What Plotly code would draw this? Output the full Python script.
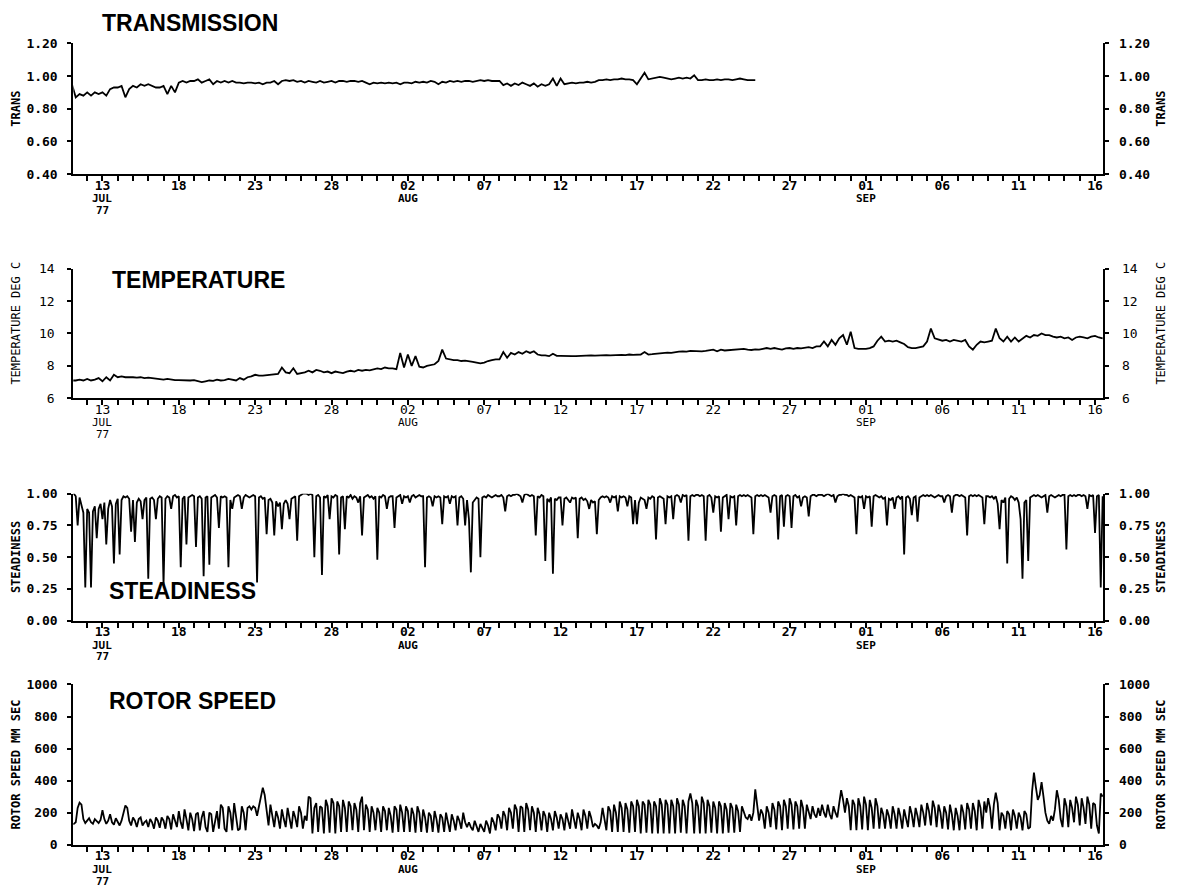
import pandas as pd
import plotly.graph_objects as go

W, H = 1177, 895

# ---- Transmission, 6-hourly from 1977-07-11 00:00 (ends 24 Aug) ----
trans_vals = [
    0.95, 0.87, 0.89, 0.88,   # Jul 11
    0.90, 0.88, 0.90, 0.89,
    0.90, 0.88, 0.92, 0.93,
    0.93, 0.94, 0.87, 0.92,
    0.94, 0.93, 0.95, 0.94,   # Jul 15
    0.95, 0.94, 0.93, 0.93,
    0.94, 0.89, 0.94, 0.90,
    0.96, 0.97, 0.96, 0.97,
    0.97, 0.98, 0.96, 0.97,
    0.98, 0.95, 0.97, 0.96,   # Jul 20
    0.97, 0.96, 0.97, 0.96,
    0.96, 0.955, 0.96, 0.96,
    0.955, 0.96, 0.95, 0.96,
    0.96, 0.97, 0.95, 0.97,
    0.975, 0.97, 0.975, 0.965,  # Jul 25
    0.97, 0.96, 0.97, 0.965,
    0.96, 0.97, 0.96, 0.965,
    0.97, 0.96, 0.97, 0.97,
    0.965, 0.97, 0.97, 0.965,
    0.97, 0.96, 0.95, 0.96,   # Jul 30
    0.955, 0.96, 0.955, 0.96,
    0.955, 0.96, 0.95, 0.96,  # Aug 1
    0.96, 0.955, 0.965, 0.96,
    0.965, 0.96, 0.97, 0.965,
    0.95, 0.965, 0.96, 0.97,
    0.965, 0.97, 0.965, 0.97,  # Aug 5
    0.97, 0.965, 0.97, 0.975,
    0.97, 0.975, 0.97, 0.97,
    0.97, 0.945, 0.955, 0.94,
    0.955, 0.945, 0.96, 0.95,
    0.94, 0.955, 0.935, 0.95,  # Aug 10
    0.94, 0.95, 0.985, 0.94,
    0.985, 0.95, 0.955, 0.96,
    0.955, 0.96, 0.96, 0.965,
    0.96, 0.965, 0.975, 0.975,
    0.98, 0.975, 0.98, 0.98,   # Aug 15
    0.985, 0.98, 0.98, 0.975,
    0.95, 0.985, 1.02, 0.98,
    0.985, 0.99, 0.995, 0.99,
    0.985, 0.98, 0.985, 0.99,
    0.985, 0.99, 0.985, 1.005,  # Aug 20
    0.975, 0.975, 0.98, 0.975,
    0.975, 0.98, 0.975, 0.98,
    0.98, 0.975, 0.98, 0.985,
    0.98, 0.975, 0.975, 0.975,  # Aug 24
]

# ---- Temperature (deg C), 6-hourly from 1977-07-11 00:00 ----
temp_vals = [
    7.1, 7.1, 7.15, 7.1,      # Jul 11
    7.2, 7.1, 7.15, 7.25,
    7.05, 7.3, 7.1, 7.45,
    7.3, 7.35, 7.3, 7.32,
    7.3, 7.28, 7.3, 7.25,     # Jul 15
    7.28, 7.25, 7.22, 7.2,
    7.15, 7.2, 7.15, 7.12,
    7.12, 7.1, 7.12, 7.1,
    7.12, 7.08, 7.0, 7.05,
    7.1, 7.08, 7.15, 7.1,     # Jul 20
    7.12, 7.2, 7.15, 7.1,
    7.25, 7.15, 7.3, 7.35,
    7.45, 7.4, 7.4, 7.42,
    7.42, 7.45, 7.5, 7.9,
    7.6, 7.55, 7.85, 7.5,     # Jul 25
    7.55, 7.6, 7.7, 7.6,
    7.75, 7.7, 7.6, 7.65,
    7.55, 7.65, 7.6, 7.55,
    7.65, 7.7, 7.65, 7.75,
    7.7, 7.75, 7.72, 7.8,     # Jul 30
    7.85, 7.8, 7.9, 7.85,
    7.85, 7.8, 8.8, 7.9,      # Aug 1
    8.7, 8.0, 8.6, 7.95,
    7.9, 8.0, 8.05, 8.1,
    8.3, 9.0, 8.45, 8.4,
    8.35, 8.35, 8.3, 8.32,    # Aug 5
    8.3, 8.25, 8.2, 8.15,
    8.2, 8.3, 8.35, 8.4,
    8.4, 8.85, 8.5, 8.8,
    8.7, 8.85, 8.75, 8.9,
    8.8, 8.9, 8.7, 8.65,      # Aug 10
    8.65, 8.6, 8.75, 8.62,
    8.62, 8.6, 8.62, 8.6,
    8.6, 8.62, 8.65, 8.63,
    8.65, 8.63, 8.65, 8.64,
    8.66, 8.65, 8.67, 8.66,   # Aug 15
    8.68, 8.66, 8.7, 8.68,
    8.68, 8.7, 8.85, 8.7,
    8.72, 8.75, 8.78, 8.8,
    8.82, 8.8, 8.85, 8.88,
    8.9, 8.88, 8.92, 8.9,     # Aug 20
    8.88, 8.9, 8.92, 8.95,
    9.0, 8.9, 9.0, 8.95,
    8.97, 9.0, 8.98, 9.02,
    9.05, 9.0, 8.98, 9.02,
    9.0, 9.05, 9.1, 9.05,     # Aug 25
    9.1, 9.05, 9.0, 9.08,
    9.1, 9.05, 9.1, 9.08,
    9.1, 9.15, 9.1, 9.2,
    9.2, 9.5, 9.2, 9.6,
    9.3, 9.7, 9.9, 9.3,       # Aug 30
    10.1, 9.1, 9.05, 9.05,
    9.05, 9.1, 9.2, 9.55,     # Sep 1
    9.8, 9.5, 9.55, 9.5,
    9.55, 9.45, 9.35, 9.15,
    9.1, 9.1, 9.15, 9.2,
    9.5, 10.3, 9.7, 9.6,      # Sep 5
    9.55, 9.6, 9.5, 9.6,
    9.55, 9.5, 9.6, 9.2,
    9.0, 9.3, 9.5, 9.45,
    9.5, 9.55, 10.3, 9.7,
    9.5, 9.8, 9.5, 9.75,      # Sep 10
    9.5, 9.7, 9.85, 9.75,
    9.9, 9.85, 10.0, 9.9,
    9.9, 9.8, 9.75, 9.8,
    9.7, 9.75, 9.6, 9.75,
    9.8, 9.75, 9.7, 9.8,      # Sep 15
    9.85, 9.75, 9.7,
]

# ---- Steadiness, 3-hourly from 1977-07-11 00:00 ----
steady_vals = [
    1.00, 1.00, 0.98, 0.75, 0.97, 0.90, 0.85, 0.26,   # Jul 11
    0.88, 0.85, 0.26, 0.86, 0.90, 0.65, 0.88, 0.92,
    0.80, 0.93, 0.60, 0.88, 0.95, 0.90, 0.45, 0.92,
    0.96, 0.52, 0.95, 0.98, 0.97, 0.98, 0.96, 0.70,
    0.95, 0.62, 0.93, 0.96, 0.94, 0.80, 0.95, 0.97,   # Jul 15
    0.33, 0.96, 0.97, 0.95, 0.80, 0.96, 0.98, 0.97,
    0.28, 0.96, 0.98, 0.97, 0.88, 0.98, 0.99, 0.97,
    0.98, 0.42, 0.96, 0.98, 0.60, 0.97, 0.98, 0.99,
    0.98, 0.58, 0.97, 0.98, 0.96, 0.35, 0.97, 0.98,
    0.44, 0.97, 0.98, 0.99, 0.97, 0.73, 0.98, 0.97,   # Jul 20
    0.98, 0.97, 0.42, 0.95, 0.88, 0.97, 0.98, 0.99,
    0.98, 0.88, 0.97, 0.99, 0.98, 0.97, 0.98, 0.99,
    0.98, 0.30, 0.97, 0.98, 0.96, 0.97, 0.68, 0.95,
    0.96, 0.93, 0.67, 0.94, 0.90, 0.93, 0.72, 0.92,
    0.95, 0.92, 0.80, 0.96, 0.97, 0.98, 0.63, 0.98,   # Jul 25
    0.99, 1.00, 1.00, 1.00, 0.99, 1.00, 0.99, 0.50,
    0.98, 0.99, 0.97, 0.36, 0.98, 0.97, 0.99, 0.80,
    0.98, 0.97, 0.99, 0.98, 0.52, 0.97, 0.98, 0.72,
    0.98, 0.97, 0.99, 0.96, 0.98, 0.97, 0.93, 0.98,
    0.67, 0.97, 0.98, 0.99, 0.97, 0.98, 0.96, 0.98,   # Jul 30
    0.48, 0.98, 0.97, 0.99, 0.98, 0.88, 0.97, 0.98,
    0.98, 0.73, 0.97, 0.98, 0.99, 0.92, 0.98, 0.97,   # Aug 1
    0.98, 0.93, 0.98, 0.99, 0.97, 0.98, 0.99, 0.98,
    0.98, 0.42, 0.97, 0.98, 0.97, 0.90, 0.98, 0.97,
    0.98, 0.97, 0.76, 0.98, 0.97, 0.98, 0.92, 0.98,
    0.97, 0.98, 0.75, 0.97, 0.98, 0.96, 0.75, 0.95,   # Aug 5
    0.80, 0.38, 0.93, 0.95, 0.97, 0.96, 0.50, 0.97,
    0.98, 0.97, 0.99, 0.98, 0.97, 0.98, 0.99, 0.98,
    0.98, 0.99, 0.97, 0.86, 0.98, 0.99, 0.98, 0.99,
    0.99, 1.00, 0.99, 0.98, 0.93, 0.99, 1.00, 0.99,
    0.98, 0.99, 0.98, 0.67, 0.98, 0.97, 0.99, 0.98,   # Aug 10
    0.47, 0.96, 0.94, 0.97, 0.37, 0.96, 0.95, 0.97,
    0.97, 0.75, 0.96, 0.97, 0.95, 0.93, 0.97, 0.96,
    0.97, 0.65, 0.96, 0.97, 0.95, 0.96, 0.94, 0.88,
    0.95, 0.93, 0.94, 0.68, 0.95, 0.97, 0.98, 0.97,
    0.98, 0.97, 0.93, 0.98, 0.97, 0.98, 0.86, 0.98,   # Aug 15
    0.97, 0.98, 0.97, 0.90, 0.98, 0.97, 0.76, 0.95,
    0.76, 0.93, 0.97, 0.96, 0.95, 0.88, 0.97, 0.96,
    0.98, 0.97, 0.64, 0.97, 0.98, 0.97, 0.96, 0.76,
    0.98, 0.97, 0.98, 0.80, 0.98, 0.99, 0.98, 0.93,
    0.99, 0.98, 0.99, 0.63, 0.98, 0.99, 0.98, 0.99,   # Aug 20
    0.99, 0.98, 0.99, 0.98, 0.63, 0.98, 0.99, 0.97,
    0.85, 0.98, 0.97, 0.98, 0.70, 0.97, 0.98, 0.99,
    0.80, 0.98, 0.97, 0.98, 0.75, 0.98, 0.99, 0.98,
    0.99, 0.98, 0.99, 0.98, 0.97, 0.68, 0.98, 0.99,
    0.98, 0.99, 0.98, 0.99, 0.98, 0.97, 0.85, 0.98,   # Aug 25
    0.99, 0.98, 0.64, 0.98, 0.99, 0.74, 0.98, 0.99,
    0.98, 0.73, 0.98, 0.99, 0.97, 0.98, 0.90, 0.97,
    0.98, 0.97, 0.82, 0.98, 0.99, 0.99, 0.98, 0.99,
    0.99, 0.99, 0.98, 0.99, 1.00, 0.99, 0.98, 0.99,
    0.93, 0.98, 0.99, 0.99, 1.00, 0.99, 0.99, 0.98,   # Aug 30
    0.99, 0.98, 0.97, 0.68, 0.98, 0.97, 0.98, 0.88,
    0.98, 0.97, 0.98, 0.74, 0.98, 0.99, 0.98, 0.97,   # Sep 1
    0.98, 0.96, 0.97, 0.75, 0.96, 0.95, 0.97, 0.88,
    0.97, 0.98, 0.96, 0.98, 0.52, 0.97, 0.98, 0.96,
    0.83, 0.97, 0.98, 0.78, 0.97, 0.98, 0.99, 0.98,
    0.99, 0.98, 0.99, 0.98, 0.97, 0.98, 0.99, 0.98,   # Sep 5
    0.98, 0.93, 0.98, 0.99, 0.98, 0.85, 0.98, 0.99,
    0.99, 0.98, 0.99, 0.98, 0.97, 0.67, 0.98, 0.99,
    0.98, 0.99, 0.98, 0.99, 0.98, 0.97, 0.76, 0.98,
    0.98, 0.97, 0.98, 0.96, 0.98, 0.92, 0.72, 0.95,
    0.93, 0.97, 0.45, 0.96, 0.98, 0.97, 0.95, 0.97,   # Sep 10
    0.93, 0.80, 0.33, 0.93, 0.95, 0.47, 0.97, 0.98,
    0.99, 0.98, 0.99, 0.98, 0.97, 0.98, 0.99, 0.85,
    0.98, 0.99, 0.98, 0.97, 0.98, 0.99, 0.98, 0.99,
    0.99, 0.56, 0.98, 0.99, 0.98, 0.99, 0.98, 0.99,
    0.99, 0.98, 0.99, 0.98, 0.88, 0.99, 0.98, 0.99,   # Sep 15
    0.69, 0.98, 0.99, 0.26, 0.98,
]

# ---- Rotor speed (mm/sec), 3-hourly from 1977-07-11 00:00 ----
rotor_vals = [
    130, 130, 140, 230, 262, 250, 160, 135,   # Jul 11
    150, 165, 140, 130, 160, 150, 135, 155,
    215, 160, 130, 150, 190, 140, 125, 165,
    140, 120, 150, 200, 245, 230, 150, 120,
    170, 150, 110, 160, 170, 120, 140, 150,   # Jul 15
    110, 160, 140, 100, 170, 150, 105, 170,
    150, 100, 180, 160, 95, 190, 150, 110,
    210, 140, 100, 220, 160, 90, 200, 160,
    85, 190, 200, 90, 170, 210, 110, 80,
    200, 190, 80, 150, 210, 100, 250, 230,    # Jul 20
    100, 80, 240, 200, 90, 260, 180, 90,
    100, 240, 200, 90, 230, 240, 220, 240,
    230, 180, 240, 300, 356, 310, 200, 120,
    250, 180, 110, 210, 170, 100, 220, 160,
    110, 230, 150, 100, 210, 170, 110, 240,   # Jul 25
    200, 100, 180, 150, 300, 290, 70, 230,
    260, 80, 240, 230, 70, 280, 240, 75,
    290, 260, 70, 270, 240, 80, 280, 230,
    80, 270, 240, 90, 260, 220, 80, 260,
    300, 90, 250, 220, 80, 240, 200, 90,      # Jul 30
    230, 200, 80, 240, 210, 90, 230, 180,
    75, 240, 220, 80, 250, 200, 80, 240,      # Aug 1
    210, 80, 230, 190, 75, 240, 200, 80,
    220, 170, 75, 200, 180, 80, 210, 160,
    75, 190, 170, 80, 200, 150, 80, 190,
    150, 90, 180, 150, 100, 200, 140, 110,    # Aug 5
    140, 110, 90, 150, 120, 80, 130, 100,
    80, 150, 120, 70, 170, 140, 90, 190,
    170, 100, 210, 180, 90, 230, 200, 100,
    250, 220, 80, 240, 230, 80, 260, 220,
    90, 240, 200, 80, 230, 190, 90, 210,      # Aug 10
    180, 80, 200, 160, 90, 210, 170, 100,
    190, 160, 90, 200, 150, 100, 220, 170,
    100, 200, 160, 90, 220, 180, 100, 210,
    170, 110, 130, 120, 100, 140, 230, 160,
    90, 240, 210, 80, 250, 200, 80, 270,      # Aug 15
    230, 80, 260, 220, 75, 270, 240, 80,
    280, 240, 70, 270, 250, 75, 280, 250,
    70, 270, 240, 70, 290, 250, 70, 280,
    250, 70, 280, 240, 70, 290, 250, 75,
    280, 240, 70, 270, 320, 260, 70, 280,     # Aug 20
    240, 70, 300, 260, 70, 280, 240, 75,
    270, 230, 70, 270, 240, 70, 260, 220,
    75, 260, 230, 75, 250, 210, 80, 240,
    200, 170, 160, 190, 150, 200, 345, 260,
    150, 220, 190, 100, 240, 200, 110, 260,   # Aug 25
    220, 95, 270, 240, 90, 280, 240, 100,
    290, 250, 95, 270, 240, 100, 280, 230,
    100, 250, 200, 160, 240, 190, 170, 230,
    180, 250, 200, 170, 250, 190, 160, 240,
    200, 170, 260, 340, 280, 200, 290, 240,   # Aug 30
    90, 280, 250, 90, 290, 240, 95, 300,
    250, 90, 280, 230, 100, 290, 240, 100,    # Sep 1
    230, 190, 100, 220, 180, 100, 240, 190,
    100, 230, 180, 100, 220, 170, 110, 240,
    190, 110, 230, 180, 110, 250, 200, 120,
    260, 210, 120, 275, 230, 110, 250, 200,   # Sep 5
    100, 240, 200, 95, 250, 190, 90, 230,
    180, 90, 250, 200, 95, 260, 220, 100,
    260, 210, 90, 280, 230, 100, 270, 200,
    290, 230, 100, 250, 325, 260, 90, 200,
    180, 100, 210, 190, 90, 220, 180, 100,    # Sep 10
    200, 170, 90, 210, 190, 100, 110, 330,
    450, 360, 280, 310, 390, 300, 200, 150,
    130, 180, 150, 220, 340, 280, 160, 110,
    290, 240, 110, 280, 230, 140, 300, 250,
    120, 290, 230, 130, 300, 250, 100, 260,   # Sep 15
    250, 120, 70, 320, 300,
]

trans_time = pd.date_range("1977-07-11 00:00", periods=len(trans_vals), freq="6h")
temp_time = pd.date_range("1977-07-11 00:00", periods=len(temp_vals), freq="6h")
steady_time = pd.date_range("1977-07-11 00:00", periods=len(steady_vals), freq="3h")
rotor_time = pd.date_range("1977-07-11 00:00", periods=len(rotor_vals), freq="3h")

# daily ticks, every fifth day labelled
day_ticks = pd.date_range("1977-07-12", "1977-09-16", freq="D")
first_label = pd.Timestamp("1977-07-13")
day_text = [d.strftime("%d") if (d - first_label).days % 5 == 0 else "" for d in day_ticks]
month_marks = [("1977-07-13", ["JUL", "77"]), ("1977-08-02", ["AUG"]), ("1977-09-01", ["SEP"])]

x_range = ["1977-07-11 02:10", "1977-09-16 13:00"]
x_dom = [73.3 / W, 1103.3 / W]

panels = [
    dict(title="TRANSMISSION", ytitle="TRANS", x=trans_time, y=trans_vals,
         rng=[0.40, 1.20], tv=[0.40, 0.60, 0.80, 1.00, 1.20],
         tt=["0.40", "0.60", "0.80", "1.00", "1.20"],
         top=37, bot=170, tpos=(100, 16.5), bold=True),
    dict(title="TEMPERATURE", ytitle="TEMPERATURE DEG C", x=temp_time, y=temp_vals,
         rng=[6, 14], tv=[6, 8, 10, 12, 14], tt=["6", "8", "10", "12", "14"],
         top=266, bot=398, tpos=(110, 277.5), bold=False),
    dict(title="STEADINESS", ytitle="STEADINESS", x=steady_time, y=steady_vals,
         rng=[0, 1.0], tv=[0, 0.25, 0.5, 0.75, 1.0],
         tt=["0.00", "0.25", "0.50", "0.75", "1.00"],
         top=495, bot=624, tpos=(107, 594), bold=True),
    dict(title="ROTOR SPEED", ytitle="ROTOR SPEED MM SEC", x=rotor_time, y=rotor_vals,
         rng=[0, 1000], tv=[0, 200, 400, 600, 800, 1000],
         tt=["0", "200", "400", "600", "800", "1000"],
         top=689, bot=852, tpos=(107, 706), bold=True),
]

MONO = "DejaVu Sans Mono"
SANS = "Liberation Sans"

fig = go.Figure()
layout = dict(
    width=W, height=H, margin=dict(l=0, r=0, t=0, b=0),
    paper_bgcolor="white", plot_bgcolor="white", showlegend=False,
)
annotations = []


def px(xp):
    return xp / W


def py(yp):
    return 1 - yp / H


for i, p in enumerate(panels, start=1):
    sfx = "" if i == 1 else str(i)
    rsfx = str(i + 4)
    weight = "bold" if p["bold"] else "normal"
    tfont = dict(family=MONO, size=13, color="black", weight=weight)
    dom = [py(p["bot"]), py(p["top"])]

    fig.add_trace(go.Scatter(
        x=p["x"], y=p["y"], mode="lines",
        line=dict(color="black", width=1.8),
        xaxis="x" + sfx, yaxis="y" + sfx, hoverinfo="skip",
    ))
    # mirror of the series on the right-hand axis so that axis is drawn
    fig.add_trace(go.Scatter(
        x=p["x"], y=p["y"], mode="lines",
        line=dict(color="rgba(0,0,0,0)", width=0),
        xaxis="x" + sfx, yaxis="y" + rsfx, hoverinfo="skip",
    ))

    layout["xaxis" + sfx] = dict(
        domain=x_dom, anchor="y" + sfx, range=x_range, type="date",
        tickmode="array", tickvals=day_ticks, ticktext=day_text,
        ticks="outside", ticklen=5, tickwidth=2, tickcolor="black",
        showline=True, linecolor="black", linewidth=2,
        showgrid=False, zeroline=False, tickfont=tfont, ticklabelstandoff=-7,
    )
    yax = dict(
        domain=dom, range=p["rng"], tickmode="array", tickvals=p["tv"], ticktext=p["tt"],
        ticks="outside", ticklen=4, tickwidth=2, tickcolor="black",
        showline=True, linecolor="black", linewidth=2,
        showgrid=False, zeroline=False, tickfont=tfont,
        ticklabelstandoff=7 if p["bold"] else 10,
    )
    layout["yaxis" + sfx] = dict(yax, anchor="x" + sfx, side="left")
    layout["yaxis" + rsfx] = dict(yax, anchor="x" + sfx, side="right", overlaying="y" + sfx)

    # panel title
    annotations.append(dict(
        text=p["title"], xref="paper", yref="paper",
        x=px(p["tpos"][0]), y=py(p["tpos"][1]), xanchor="left", yanchor="middle",
        showarrow=False, font=dict(family=SANS, size=23, color="black", weight="bold"),
    ))
    # y-axis titles on both sides
    afont = dict(family=MONO, size=12, color="black", weight=weight)
    mid = (p["top"] + p["bot"]) / 2
    if i == 2:
        mid = 322
    for xp in (16, 1161):
        annotations.append(dict(
            text=p["ytitle"], xref="paper", yref="paper", x=px(xp), y=py(mid),
            xanchor="center", yanchor="middle", textangle=-90, showarrow=False,
            font=afont,
        ))
    # month and year lines under the date labels
    for date, lines in month_marks:
        for k, line in enumerate(lines):
            annotations.append(dict(
                text=line, xref="x" + sfx, yref="paper", x=date,
                y=py(p["bot"] + 25 + 12 * k), xanchor="center", yanchor="middle",
                showarrow=False, font=dict(family=MONO, size=11, color="black", weight=weight),
            ))

layout["annotations"] = annotations
fig.update_layout(**layout)
fig.write_html("out.html")
